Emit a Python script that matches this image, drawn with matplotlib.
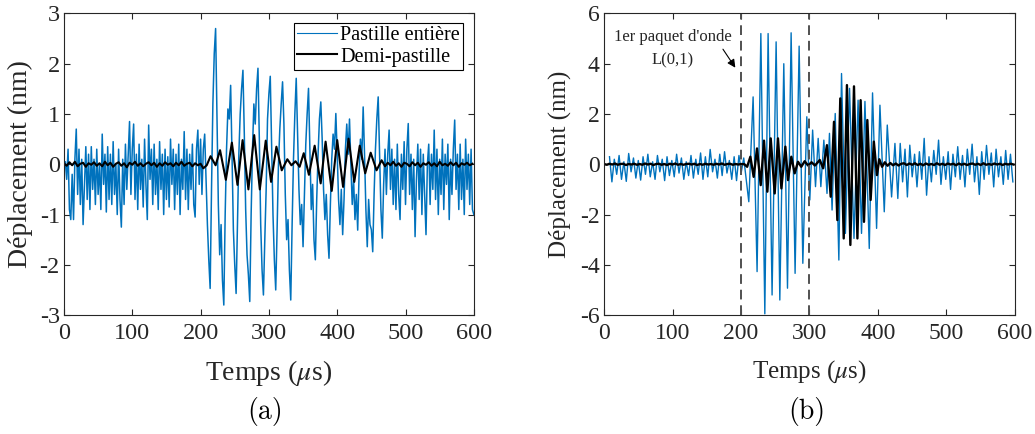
import numpy as np
import matplotlib
matplotlib.use("Agg")
import matplotlib.pyplot as plt

plt.rcParams['font.family'] = ['Liberation Serif', 'DejaVu Serif']
plt.rcParams['mathtext.fontset'] = 'stix'
plt.rcParams['axes.unicode_minus'] = False

# ---------------- (a) : pastille entière / demi-pastille ----------------
# pastille entière, un point toutes les 2 us de 0 a 600 us
a_entiere = [
    0.0, 0.05, -0.3, 0.3, -0.9, -1.1, -0.2, -1.1, 0.1, 0.7,
    -0.6, 0.3, -0.8, 0.1, -1.2, -0.4, 0.35, -0.7, 0.2, -0.9,
    0.35, -0.5, 0.1, -0.8, 0.3, -0.6, 0.0, -0.9, 0.6, -0.4,
    0.2, -0.95, 0.35, -0.7, 0.2, -0.8, 0.45, -0.6, 0.0, -1.0,
    0.3, -0.7, -1.25, 0.1, -0.8, 0.4, -0.5, 0.2, 0.85, -0.6,
    0.3, 0.8, -0.7, 0.2, -0.9, 0.4, -0.5, 0.1, -0.85, 0.5,
    -0.4, -1.1, 0.78, -0.3, 0.3, -0.8, 0.4, -0.6, 0.1, -0.9,
    0.45, -0.5, 0.2, -1.0, 0.3, -0.7, 0.15, -0.85, 0.5, -0.4,
    0.3, -0.9, 0.2, -0.6, 0.4, -1.0, 0.1, -0.5, 0.65, -0.7,
    0.3, -0.9, 0.2, -0.5, 0.4, -0.8, -1.05, 0.3, 0.68, -0.4,
    0.5, -0.6, 0.3, 0.6, -0.3, -1.2, -1.9, -2.47, -0.5, 1.2,
    2.2, 2.7, 1.0, -0.8, -1.8, -1.2, -2.3, -2.8, -1.0, 0.3,
    1.1, 0.9, 1.57, 0.2, -1.3, -2.0, -2.57, -1.2, 0.2, 1.0,
    1.5, 1.87, 0.6, -0.9, -1.8, -2.2, -2.73, -1.0, 0.3, 1.2,
    0.8, 1.5, 1.91, 0.5, -1.2, -2.1, -2.6, -1.5, -0.5, 0.9,
    1.4, 1.75, 0.4, -1.0, -1.9, -2.5, -1.3, 0.0, 0.7, 1.2,
    1.64, 0.8, -0.6, -1.5, -1.1, -2.1, -2.7, -1.2, 0.1, 1.0,
    1.71, 0.6, -0.5, -1.2, -0.8, -1.64, -0.6, 0.4, 1.0, 1.51,
    0.3, -0.9, -0.4, -1.5, -1.9, -0.7, 0.2, 0.9, 1.24, 0.5,
    -0.5, -1.1, -0.6, -1.4, -1.87, -0.8, 0.1, 0.6, 0.3, 1.01,
    0.2, -0.7, -1.2, -0.5, -1.4, -0.7, 0.3, 0.8, 0.2, 0.9,
    0.0, -0.8, -0.3, -1.1, -0.6, -1.31, -0.2, 0.5, 0.1, 1.14,
    0.2, -0.9, -1.64, -0.7, -1.2, -1.3, -1.74, -0.6, 0.3, 0.9,
    1.34, 0.2, -0.9, -1.47, -0.4, 0.3, -0.6, 0.2, 0.68, -0.5,
    0.3, -0.8, 0.1, -0.9, 0.4, -0.6, -1.1, 0.2, -0.5, 0.45,
    -0.8, 0.3, 0.81, -0.6, 0.2, -0.9, 0.1, -1.44, -0.3, 0.4,
    -0.7, 0.3, -1.0, 0.2, -0.6, -1.4, 0.0, 0.4, -0.8, 0.2,
    -0.5, 0.68, -0.7, 0.3, -1.0, 0.1, -0.6, 0.5, -0.9, 0.2,
    -0.4, 0.4, -1.1, 0.1, -0.6, 0.3, 0.88, -0.5, 0.2, -0.9,
    0.4, -0.7, 0.1, -1.0, 0.5, -0.5, 0.2, -0.8, 0.3, -0.9,
    -1.0,
]

# demi-pastille : bruit avant (pas 4 us, 0-200), paquets, bruit apres (pas 4 us des 470)
a_demi_avant = [
    0.02, -0.03, 0.04, -0.02, 0.05, -0.04, 0.01, 0.03, -0.05, 0.02,
    -0.01, 0.04, -0.03, 0.02, -0.04, 0.05, -0.02, 0.03, -0.05, 0.01,
    0.04, -0.03, 0.02, -0.06, 0.03, -0.01, 0.05, -0.03, 0.02, -0.04,
    0.01, 0.04, -0.02, 0.03, -0.05, 0.02, -0.03, 0.04, -0.01, 0.02,
    -0.04, 0.03, -0.02, 0.05, -0.03, 0.01, 0.03, -0.04, 0.02, -0.02,
    0.01,
]
a_demi_t = [204, 209, 214.6, 222, 228.5, 237, 245.8, 254, 261.5, 270,
            278.5, 286.7, 295.4, 303.2, 311, 318.8, 327, 333, 339, 345,
            351, 358.6, 367, 375.8, 383, 392, 400, 408.6, 416.6, 425,
            433, 441, 449, 457.6, 465]
a_demi = [-0.08, -0.02, 0.16, -0.02, 0.28, -0.31, 0.43, -0.41, 0.48, -0.50,
          0.58, -0.50, 0.47, -0.35, 0.35, -0.12, 0.10, -0.02, 0.06, -0.05,
          0.22, -0.21, 0.37, -0.38, 0.45, -0.53, 0.48, -0.45, 0.51, -0.35,
          0.37, -0.18, 0.23, -0.12, 0.08]
a_demi_apres = [
    -0.04, 0.03, -0.02, 0.05, -0.03, 0.02, -0.05, 0.03, 0.01, -0.04,
    0.04, -0.02, 0.03, -0.05, 0.02, -0.01, 0.04, -0.03, 0.02, -0.04,
    0.05, -0.02, 0.01, -0.03, 0.04, -0.02, 0.03, -0.05, 0.02, -0.01,
    0.03, -0.02, 0.01,
]

# ---------------- (b) ----------------
# pastille entiere : bruit avant (des 8 us, pas 3.5 us), paquets, bruit apres (des 429 us)
b_entiere_avant = [
    0.3, -0.7, 0.2, -0.4, 0.35, -0.6, 0.1, -0.68, 0.43, -0.3,
    0.25, -0.55, 0.15, -0.63, 0.3, -0.4, 0.4, -0.5, 0.1, -0.6,
    0.35, -0.3, 0.2, -0.65, 0.3, -0.45, 0.15, -0.5, 0.4, -0.35,
    0.25, -0.6, 0.1, -0.45, 0.35, -0.55, 0.2, -0.4, 0.45, -0.6,
    0.3, -0.5, 0.59, -0.3, 0.2, -0.55, 0.4, -0.45, 0.5, -0.35,
    0.15, -0.6, 0.3, -0.65, 0.35, -0.3, 0.25,
]
b_entiere_t = [211.4, 217.7, 223.5, 229, 234.8, 239.6, 245.4, 251.3, 256.7, 262.5,
               267.9, 273.2, 279, 284.9, 290.3, 296.1, 300.5, 304.6, 308.8, 312.7,
               316.6, 321, 325.6, 329.2, 333, 337.6, 342.9, 346.8, 352.5, 358.5,
               365, 371, 376, 381, 387.3, 392.1, 398, 402.9, 409.2, 413.6,
               419.9, 424.8]
b_entiere = [-1.49, 2.68, -4.27, 5.2, -5.95, 5.2, -5.2, 4.87, -5.4, 4.0,
             -4.93, 5.23, -4.34, 4.7, -3.94, 1.89, -1.42, 1.36, -0.89, 1.03,
             -0.89, 0.96, -1.16, 1.23, -1.82, 2.02, -3.81, 3.61, -2.75, 3.02,
             -2.95, 2.55, -2.75, 2.5, -3.35, 2.84, -2.55, 2.35, -1.89, 1.56,
             -1.3, 0.83]
b_entiere_apres = [
    -1.36, 0.83, -0.7, 0.6, -1.3, 0.76, -0.5, 0.4, -0.9, 0.5,
    -0.6, 1.03, -1.23, 0.3, -0.7, 0.55, -0.4, 0.96, -0.8, 0.3,
    -0.6, 0.5, -1.0, 0.4, -0.5, 0.7, -0.6, 0.35, -0.9, 0.6,
    -0.4, 0.8, -0.7, 0.3, -1.2, 0.5, -0.6, 0.75, -0.4, 0.45,
    -0.9, 0.6, -0.5, 0.3, -0.8, 0.55, -0.6, 0.4, -0.7,
]

b_demi_avant = [
    0.01, -0.02, 0.02, -0.01, 0.03, -0.02, 0.01, 0.02, -0.03, 0.01,
    -0.01, 0.02, -0.02, 0.01, -0.02, 0.03, -0.01, 0.02, -0.03, 0.01,
    0.02, -0.02, 0.01, -0.03, 0.02, -0.01, 0.03, -0.02, 0.01, -0.02,
    0.01, 0.02, -0.01, 0.02, -0.03, 0.01, -0.02, 0.02, -0.01, 0.01,
    -0.02, 0.02, -0.01, 0.03, -0.02, 0.01, 0.02, -0.02, 0.01, -0.01,
    0.01,
]
b_demi_t = [205, 209, 213.7, 218.5, 223.4, 228.8, 233.6, 238.5, 243.4, 249.2,
            254, 259, 264.8, 268.6, 273.5, 278.4, 283.2, 288, 293, 298,
            303, 308, 315, 320, 325.5, 331, 335.8, 340.7, 345, 350,
            354.7, 359.7, 365, 370, 374.7, 379.6, 384.5, 389.3, 394, 398.5,
            402]
b_demi = [0.0, -0.1, 0.3, -0.5, 0.63, -0.83, 0.94, -1.09, 1.03, -1.16,
          1.03, -0.96, 0.70, -0.63, 0.30, -0.36, 0.10, -0.10, 0.12, -0.05,
          0.08, -0.05, 0.17, -0.16, 0.76, -1.29, 1.69, -2.22, 2.62, -2.95,
          3.15, -3.21, 3.10, -2.95, 2.55, -2.29, 1.76, -1.42, 0.90, -0.43,
          0.20]
b_demi_apres = [
    -0.1, 0.08, -0.06, 0.05, -0.04, 0.03, -0.05, 0.02, 0.04, -0.03,
    0.03, -0.02, 0.04, -0.03, 0.02, -0.04, 0.03, -0.02, 0.01, -0.03,
    0.04, -0.02, 0.02, -0.03, 0.03, -0.01, 0.02, -0.04, 0.03, -0.02,
    0.02, -0.03, 0.01, 0.03, -0.02, 0.02, -0.03, 0.04, -0.02, 0.01,
    -0.02, 0.03, -0.01, 0.02, -0.03, 0.02, -0.01, 0.02, -0.01,
]

bleu = '#0072BD'
gris = '#262626'

# assemblage des series
ta_e = np.arange(len(a_entiere)) * 2.0
ta_d = np.concatenate([np.arange(len(a_demi_avant)) * 4.0, a_demi_t,
                       470 + np.arange(len(a_demi_apres)) * 4.0])
ya_d = np.concatenate([a_demi_avant, a_demi, a_demi_apres])

tb_e = np.concatenate([8 + np.arange(len(b_entiere_avant)) * 3.5, b_entiere_t,
                       429 + np.arange(len(b_entiere_apres)) * 3.5])
yb_e = np.concatenate([b_entiere_avant, b_entiere, b_entiere_apres])
tb_d = np.concatenate([np.arange(len(b_demi_avant)) * 4.0, b_demi_t,
                       406 + np.arange(len(b_demi_apres)) * 4.0])
yb_d = np.concatenate([b_demi_avant, b_demi, b_demi_apres])

fig = plt.figure(figsize=(10.35, 4.34), dpi=100)
ax1 = fig.add_axes([0.0618, 0.274, 0.396, 0.695])
ax2 = fig.add_axes([0.5836, 0.274, 0.397, 0.695])


def habiller(ax, yticks, lab_size, tick_size):
    ax.set_xlim(0, 600)
    ax.set_xticks(range(0, 601, 100))
    ax.set_yticks(yticks)
    ax.set_ylim(yticks[0], yticks[-1])
    ax.tick_params(direction='in', top=True, right=True, length=4, width=0.8,
                   colors=gris, labelsize=tick_size)
    ax.tick_params(axis='x', pad=6)
    ax.tick_params(axis='y', pad=3)
    for s in ax.spines.values():
        s.set_color(gris)
        s.set_linewidth(0.8)
    ax.set_xlabel(r'Temps ($\mu$s)', fontsize=lab_size, color=gris)
    ax.set_ylabel('Déplacement (nm)', fontsize=lab_size, color=gris)
    ax.xaxis.set_label_coords(0.5, -0.1425)
    ax.xaxis.label.set_va('top')


# (a)
ax1.plot(ta_e, a_entiere, color=bleu, lw=1.1, label='Pastille entière')
ax1.plot(ta_d, ya_d, color='k', lw=1.5, label='Demi-pastille',
         solid_joinstyle='round')
habiller(ax1, [-3, -2, -1, 0, 1, 2, 3], 20, 17.5)
ax1.yaxis.set_label_coords(-0.0756, 0.5)
leg = ax1.legend(loc='upper right', bbox_to_anchor=(0.973, 0.968), borderaxespad=0,
                 fontsize=14.6, fancybox=False, framealpha=1, edgecolor='k',
                 handlelength=1.95, handletextpad=0.15, labelspacing=0.1,
                 borderpad=0.15)
leg.get_frame().set_linewidth(0.8)
leg.get_lines()[0].set_linewidth(0.8)

# (b)
ax2.plot(tb_e, yb_e, color=bleu, lw=1.0)
ax2.plot(tb_d, yb_d, color='k', lw=1.7, solid_joinstyle='round')
for xv in (200, 300):
    ax2.axvline(xv, color='#505050', lw=1.4, dashes=(5, 3))
habiller(ax2, [-6, -4, -2, 0, 2, 4, 6], 18, 17)
ax2.yaxis.set_label_coords(-0.0786, 0.5)
ax2.text(100.7, 5.05, "1er paquet d'onde", ha='center', va='center', fontsize=12, color=gris)
ax2.text(100.7, 4.12, "L(0,1)", ha='center', va='center', fontsize=12, color=gris)
ax2.annotate('', xy=(194, 3.75), xytext=(171.4, 4.67),
             arrowprops=dict(arrowstyle='-|>', color='k', lw=0.8, mutation_scale=12))

fig.text(264.7 / 1035, 1 - 411 / 434, '(a)', family='cmr10', fontsize=20,
         ha='center', va='center')
fig.text(806.7 / 1035, 1 - 411 / 434, '(b)', family='cmr10', fontsize=20,
         ha='center', va='center')

fig.savefig('out.png', dpi=100)
